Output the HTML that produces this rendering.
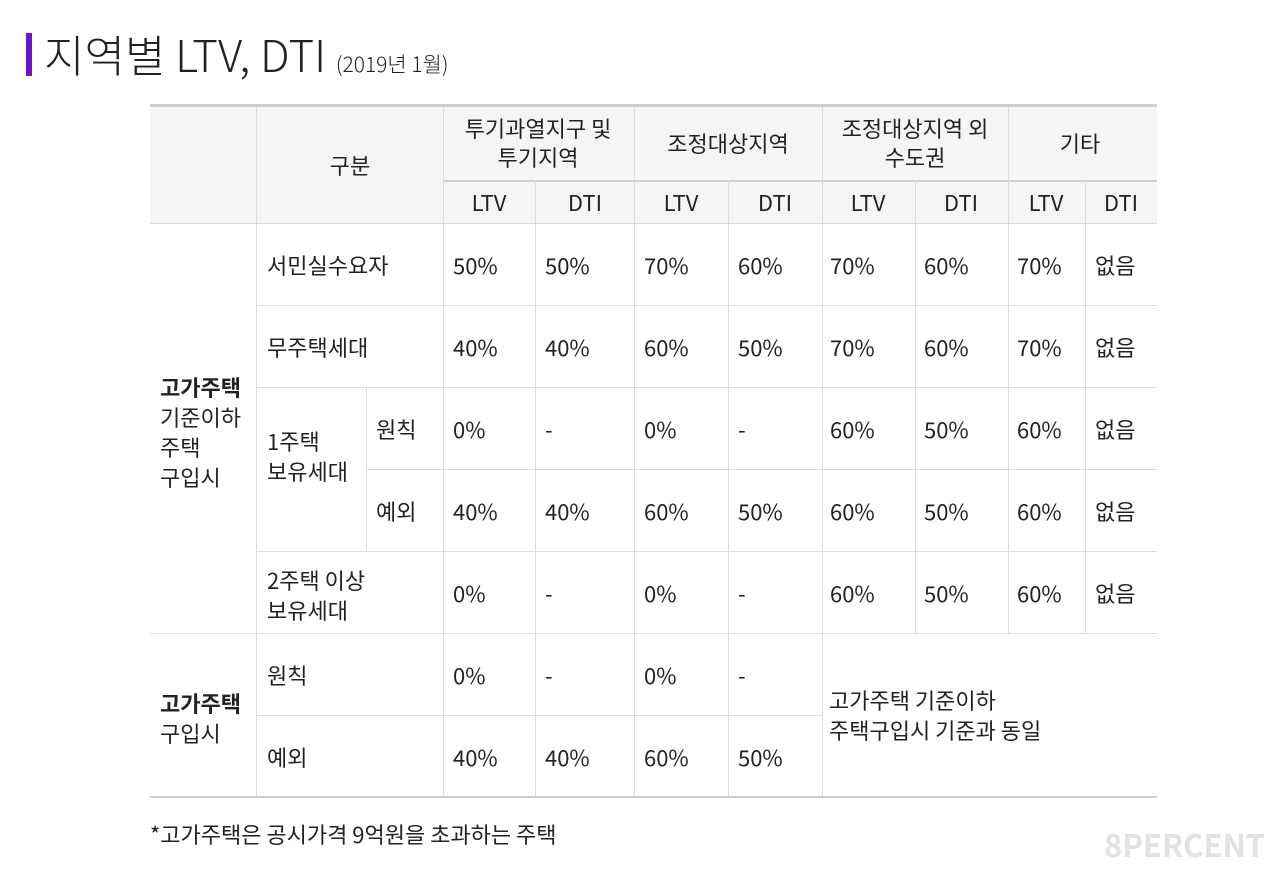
<!DOCTYPE html>
<html><head><meta charset="utf-8"><style>
*{margin:0;padding:0;box-sizing:border-box}
body{width:1280px;height:872px;background:#fff;position:relative;overflow:hidden;font-family:"Noto Sans CJK KR","Liberation Sans",sans-serif;color:#222}
.h,.v{position:absolute;background:#dcdcdc}
.h{height:1px}.v{width:1px}
.t{position:absolute;font-size:22px;line-height:26px;white-space:nowrap}
.c{text-align:center;transform:translateX(-50%)}
b{font-weight:bold}
</style></head><body>
<div style="position:absolute;left:26px;top:33px;width:6px;height:43px;background:#6a14d0"></div>
<div class="t" style="left:44px;top:24px;font-size:44px;line-height:58px;font-weight:300;letter-spacing:0px">지역별 LTV, DTI <span style="font-size:21px;letter-spacing:0px">(2019년 1월)</span></div>

<div style="position:absolute;left:150px;top:105px;width:1007px;height:118px;background:#f4f5f7"></div>
<div style="position:absolute;left:150px;top:104px;width:1007px;height:3px;background:#cfcfcf"></div>
<div style="position:absolute;left:150px;top:796px;width:1007px;height:2px;background:#cfcfcf"></div>

<div class="h" style="left:443px;top:180px;width:714px;background:#cfcfcf;height:2px"></div>
<div class="h" style="left:150px;top:223px;width:1007px"></div>
<div class="h" style="left:256px;top:305px;width:901px"></div>
<div class="h" style="left:256px;top:387px;width:901px"></div>
<div class="h" style="left:366px;top:469px;width:791px"></div>
<div class="h" style="left:256px;top:551px;width:901px"></div>
<div class="h" style="left:150px;top:633px;width:1007px"></div>
<div class="h" style="left:256px;top:715px;width:566px"></div>

<div class="v" style="left:256px;top:107px;height:690px"></div>
<div class="v" style="left:443px;top:107px;height:690px"></div>
<div class="v" style="left:634px;top:107px;height:690px"></div>
<div class="v" style="left:822px;top:107px;height:690px"></div>
<div class="v" style="left:1008px;top:107px;height:526px"></div>
<div class="v" style="left:535px;top:180px;height:617px"></div>
<div class="v" style="left:728px;top:180px;height:617px"></div>
<div class="v" style="left:915px;top:180px;height:453px"></div>
<div class="v" style="left:1085px;top:180px;height:453px"></div>
<div class="v" style="left:366px;top:387px;height:164px"></div>

<div class="t c" style="left:350px;top:152px">구분</div>
<div class="t c" style="left:538px;top:114px;line-height:29px">투기과열지구 및<br>투기지역</div>
<div class="t c" style="left:728px;top:130px">조정대상지역</div>
<div class="t c" style="left:915px;top:114px;line-height:29px">조정대상지역 외<br>수도권</div>
<div class="t c" style="left:1080px;top:130px">기타</div>
<div class="t c" style="left:489px;top:189px">LTV</div>
<div class="t c" style="left:585px;top:189px">DTI</div>
<div class="t c" style="left:681px;top:189px">LTV</div>
<div class="t c" style="left:775px;top:189px">DTI</div>
<div class="t c" style="left:868px;top:189px">LTV</div>
<div class="t c" style="left:961px;top:189px">DTI</div>
<div class="t c" style="left:1046px;top:189px">LTV</div>
<div class="t c" style="left:1121px;top:189px">DTI</div>

<div class="t" style="left:160px;top:372px;line-height:30px"><b>고가주택</b><br>기준이하<br>주택<br>구입시</div>
<div class="t" style="left:160px;top:688px;line-height:30px"><b>고가주택</b><br>구입시</div>

<div class="t" style="left:267px;top:252px">서민실수요자</div>
<div class="t" style="left:267px;top:334px">무주택세대</div>
<div class="t" style="left:267px;top:426px;line-height:30px">1주택<br>보유세대</div>
<div class="t" style="left:376px;top:416px">원칙</div>
<div class="t" style="left:376px;top:498px">예외</div>
<div class="t" style="left:267px;top:565px;line-height:30px">2주택 이상<br>보유세대</div>
<div class="t" style="left:267px;top:662px">원칙</div>
<div class="t" style="left:267px;top:744px">예외</div>

<div id="cells"></div>
<div class="t" style="left:829px;top:685px;line-height:30px">고가주택 기준이하<br>주택구입시 기준과 동일</div>

<div class="t" style="left:150px;top:821px">*고가주택은 공시가격 9억원을 초과하는 주택</div>
<div class="t" style="left:1104px;top:826px;font-size:31px;font-weight:bold;color:#e2e2e2;line-height:36px">8PERCENT</div>

<script>
const colX=[453,545,644,738,830,924,1017,1095];
const rowY=[252,334,416,498,580,662,744];
const values=[
["50%","50%","70%","60%","70%","60%","70%","없음"],
["40%","40%","60%","50%","70%","60%","70%","없음"],
["0%","-","0%","-","60%","50%","60%","없음"],
["40%","40%","60%","50%","60%","50%","60%","없음"],
["0%","-","0%","-","60%","50%","60%","없음"],
["0%","-","0%","-"],
["40%","40%","60%","50%"]];
const host=document.getElementById('cells');
values.forEach((row,r)=>row.forEach((v,c)=>{
 const d=document.createElement('div');
 d.className='t';
 
 
 d.style.left=colX[c]+'px';d.style.top=rowY[r]+'px';
 d.textContent=v;host.appendChild(d);
}));
</script>
</body></html>
